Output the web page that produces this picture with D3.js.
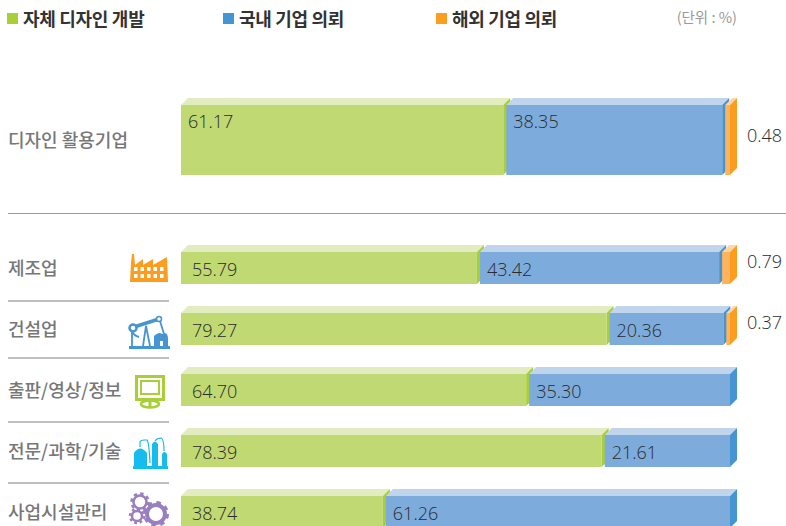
<!DOCTYPE html>
<html>
<head>
<meta charset="utf-8">
<script src="https://cdn.jsdelivr.net/npm/d3@7"></script>
<style>
html, body { margin: 0; padding: 0; background: #fff; overflow: hidden; }
svg { display: block; }
text { font-family: "Noto Sans CJK KR", sans-serif; }
.num { font-family: "Open Sans", sans-serif; font-size: 18px; fill: #2b2b2b; font-weight: 300; }
.rowLabel { font-size: 18px; font-weight: 500; fill: #777; }
.legendText { font-size: 18px; font-weight: 700; fill: #333; letter-spacing: -0.3px; }
</style>
</head>
<body>
<div id="chart"></div>
<script>
var legendLabels = ["자체 디자인 개발", "국내 기업 의뢰", "해외 기업 의뢰"];
var unitLabel = "(단위 : %)";

var topCategory = ["디자인 활용기업"];
var topSelf = [61.17];
var topDomestic = [38.35];
var topOverseas = [0.48];

var categories = ["제조업", "건설업", "출판/영상/정보", "전문/과학/기술", "사업시설관리"];
var selfDesign = [55.79, 79.27, 64.70, 78.39, 38.74];
var domestic = [43.42, 20.36, 35.30, 21.61, 61.26];
var overseas = [0.79, 0.37, 0, 0, 0];

var width = 786;
var height = 526;
var depth = 7;
var gap = 3;
var barStart = 181;
var barEnd = 730;

var colors = {
    self: { front: "#c0d972", top: "#e2ecc0", side: "#a8cf38", key: "#a8cf38" },
    domestic: { front: "#7dacdc", top: "#c0d5ec", side: "#4495d1", key: "#4495d1" },
    overseas: { front: "#ffb35d", top: "#ffd5a8", side: "#fb9d1f", key: "#fb9d1f" }
};

var svg = d3.select("#chart")
    .append("svg")
    .attr("width", width)
    .attr("height", height);

// x scales: where the green part ends, the top panel sits a little to the left
var xTop = d3.scaleLinear().domain([0, 100]).range([165, 718]);
var xRows = d3.scaleLinear().domain([0, 100]).range([169, 721]);
// the overseas slivers are drawn wider than the rest
var xOverseas = d3.scaleLinear().domain([0, 1]).range([0, 10]);

var yTop = d3.scaleBand().domain(topCategory).range([105, 175]);
var yRows = d3.scaleBand().domain(categories).range([252, 528]).paddingInner(29 / 61);

function box(g, x0, x1, y, h, c) {
    g.append("path")
        .attr("d", `M${x0},${y}L${x0 + depth},${y - depth}L${x1 + depth},${y - depth}L${x1},${y}Z`)
        .attr("fill", c.top);
    g.append("path")
        .attr("d", `M${x1},${y}L${x1 + depth},${y - depth}L${x1 + depth},${y + h - depth}L${x1},${y + h}Z`)
        .attr("fill", c.side);
    g.append("rect")
        .attr("x", x0).attr("y", y)
        .attr("width", x1 - x0).attr("height", h)
        .attr("fill", c.front);
}

function drawRow(name, self, dom, over, x, y, numY, sideY, selfX, domX) {
    var g = svg.append("g").attr("class", "row");
    var top = y(name);
    var h = y.bandwidth();
    var selfEnd = x(self);
    var domStart = selfEnd + gap;
    var overW = xOverseas(over);
    var domEnd = over > 0 ? barEnd - overW - gap : barEnd;

    box(g, barStart, selfEnd, top, h, colors.self);
    box(g, domStart, domEnd, top, h, colors.domestic);
    if (over > 0) {
        box(g, barEnd - overW, barEnd, top, h, colors.overseas);
    }

    g.append("text").attr("class", "num")
        .attr("x", barStart + selfX).attr("y", top + numY)
        .text(self.toFixed(2));
    g.append("text").attr("class", "num")
        .attr("x", domStart + domX).attr("y", top + numY)
        .text(dom.toFixed(2));
    if (over > 0) {
        g.append("text").attr("class", "num")
            .attr("x", 747).attr("y", top + sideY)
            .text(over.toFixed(2));
    }
    g.append("text").attr("class", "rowLabel")
        .attr("x", 8).attr("y", top + h / 2 + 6.5)
        .text(name);
}

drawRow(topCategory[0], topSelf[0], topDomestic[0], topOverseas[0], xTop, yTop, 23, 37, 7, 7);
categories.forEach(function (c, i) {
    drawRow(c, selfDesign[i], domestic[i], overseas[i], xRows, yRows, 23.5, 16, 11, 7);
});

// legend
var legendX = [7, 223, 436];
var keys = ["self", "domestic", "overseas"];
legendLabels.forEach(function (t, i) {
    svg.append("rect")
        .attr("x", legendX[i]).attr("y", 13)
        .attr("width", 11).attr("height", 11)
        .attr("fill", colors[keys[i]].key);
    svg.append("text").attr("class", "legendText")
        .attr("x", legendX[i] + 16).attr("y", 25.5)
        .text(t);
});
svg.append("text")
    .attr("x", 737).attr("y", 22.5)
    .attr("text-anchor", "end")
    .attr("font-size", 14.5)
    .attr("fill", "#999")
    .text(unitLabel);

// rules
svg.append("line")
    .attr("x1", 8).attr("x2", 786).attr("y1", 213.5).attr("y2", 213.5)
    .attr("stroke", "#999").attr("stroke-width", 1);
[301, 358, 422, 483].forEach(function (y) {
    svg.append("line")
        .attr("x1", 8).attr("x2", 169).attr("y1", y).attr("y2", y)
        .attr("stroke", "#aaa").attr("stroke-width", 1.5);
});

// icons
var factory = svg.append("g").attr("transform", "translate(130,254)").attr("fill", "#fb9d1f");
factory.append("path").attr("d", "M1,9L2,0L4,0L5,11L13,5L13,11L23,5L23,11L37,3L38,28L0,28Z");
[13, 20].forEach(function (y) {
    [4, 10.5, 17, 23.5, 30].forEach(function (x) {
        factory.append("rect").attr("x", x).attr("y", y)
            .attr("width", 3.5).attr("height", 4).attr("fill", "#fff");
    });
});

var pump = svg.append("g").attr("transform", "translate(129,317)");
pump.append("rect").attr("x", 0).attr("y", 29).attr("width", 41).attr("height", 3).attr("fill", "#4495d1");
pump.append("path").attr("d", "M5,10L30,2").attr("stroke", "#4495d1").attr("stroke-width", 3.5);
pump.append("circle").attr("cx", 4).attr("cy", 11).attr("r", 3.5).attr("fill", "#fff").attr("stroke", "#4495d1").attr("stroke-width", 2.5);
pump.append("circle").attr("cx", 30).attr("cy", 2).attr("r", 2.5).attr("fill", "#fff").attr("stroke", "#4495d1").attr("stroke-width", 1.5);
pump.append("path").attr("d", "M3,14L3,29M2,13Q5,19 10,20M14,29L17,9L21,29M31,4L35,17")
    .attr("fill", "none").attr("stroke", "#4495d1").attr("stroke-width", 1.8);
pump.append("path").attr("d", "M25,29L25,19Q30,14 33,17Q39,14 39,22L39,29L34,29L34,24L31,24L31,29Z").attr("fill", "#4495d1");

var monitor = svg.append("g").attr("transform", "translate(135,375)");
monitor.append("rect").attr("x", 1.5).attr("y", 1.5).attr("width", 27).attr("height", 23)
    .attr("fill", "#fff").attr("stroke", "#a8cf38").attr("stroke-width", 3);
monitor.append("rect").attr("x", 6).attr("y", 6).attr("width", 18).attr("height", 13)
    .attr("fill", "none").attr("stroke", "#a8cf38").attr("stroke-width", 2);
monitor.append("ellipse").attr("cx", 15).attr("cy", 29).attr("rx", 9).attr("ry", 3.5)
    .attr("fill", "none").attr("stroke", "#a8cf38").attr("stroke-width", 2.5);
monitor.append("rect").attr("x", 13.5).attr("y", 25).attr("width", 3).attr("height", 7).attr("fill", "#a8cf38");

var tanks = svg.append("g").attr("transform", "translate(133,438)").attr("fill", "#14bdee");
tanks.append("rect").attr("x", 0).attr("y", 28).attr("width", 35).attr("height", 3);
tanks.append("path").attr("d", "M1,29L1,15Q7,6 14,15L14,29Z");
tanks.append("path").attr("d", "M19,29L19,6Q22,1 25,6L25,29Z");
tanks.append("path").attr("d", "M29,29L29,16Q31,12 34,16L34,29Z");
tanks.append("path").attr("d", "M7,9L7,4Q8,2 11,2L14,2Q16,4 17,25M22,3Q24,0 28,0Q31,1 31,13")
    .attr("fill", "none").attr("stroke", "#14bdee").attr("stroke-width", 1.2);

// gears: dashed outer ring makes the teeth
var gearData = [
    { cx: 140, cy: 502, r: 5.5, t: 2.5 },
    { cx: 137, cy: 516, r: 4, t: 2.5 },
    { cx: 156, cy: 514, r: 8, t: 4 }
];
gearData.forEach(function (d) {
    var teeth = 2 * Math.PI * (d.r + d.t / 2 + 1.5) / 8;
    svg.append("circle").attr("cx", d.cx).attr("cy", d.cy).attr("r", d.r + 1)
        .attr("fill", "none").attr("stroke", "#9a7fc0").attr("stroke-width", d.t);
    svg.append("circle").attr("cx", d.cx).attr("cy", d.cy).attr("r", d.r + d.t / 2 + 1.5)
        .attr("fill", "none").attr("stroke", "#9a7fc0").attr("stroke-width", 3)
        .attr("stroke-dasharray", teeth / 2 + " " + teeth / 2);
});
</script>
</body>
</html>
